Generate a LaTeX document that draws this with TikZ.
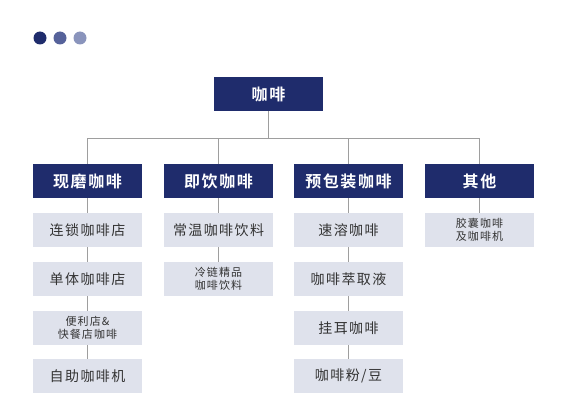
\documentclass[tikz,border=0pt]{standalone}
\usepackage{fontspec}
\newfontfamily\cjk{Noto Sans CJK SC}[LetterSpace=10]
\newfontfamily\cjkbold{Noto Sans CJK SC Bold}[LetterSpace=10]

\definecolor{navy}{HTML}{1F2C6C}
\definecolor{navymid}{HTML}{56629A}
\definecolor{navylight}{HTML}{8A94BC}
\definecolor{subfill}{HTML}{DFE2EC}
\definecolor{subtext}{HTML}{333333}
\definecolor{wire}{HTML}{9E9E9E}

\tikzset{
  headbox/.style={fill=navy, text=white, minimum width=109pt, minimum height=34pt,
    inner sep=0pt, font=\cjkbold\fontsize{16}{18}\selectfont},
  subbox/.style={fill=subfill, text=subtext, minimum width=109pt, minimum height=34pt,
    inner sep=0pt, font=\cjk\fontsize{14}{16}\selectfont},
  smallsub/.style={subbox, align=center, font=\cjk\fontsize{11}{12.5}\selectfont},
  wireline/.style={draw=wire, line width=0.9pt},
}

\begin{document}
\begin{tikzpicture}[x=1pt,y=-1pt]
  \useasboundingbox (0,0) rectangle (567,412);

  % the three dots
  \fill[navy]      (40,38) circle (6.5);
  \fill[navymid]   (60,38) circle (6.5);
  \fill[navylight] (80,38) circle (6.5);

  % root and categories
  \node[headbox] (coffee) at (268.5, 94)  {咖啡};
  \node[headbox] (fresh)  at (87.5, 181)  {现磨咖啡};
  \node[headbox] (ready)  at (218.5, 181) {即饮咖啡};
  \node[headbox] (packed) at (348.5, 181) {预包装咖啡};
  \node[headbox] (other)  at (479.5, 181) {其他};

  % sub items
  \node[subbox]   (chain)   at (87.5, 230) {连锁咖啡店};
  \node[subbox]   (single)  at (87.5, 279) {单体咖啡店};
  \node[smallsub] (store)   at (87.5, 328) {便利店\&\\快餐店咖啡};
  \node[subbox]   (machine) at (87.5, 376) {自助咖啡机};

  \node[subbox]   (ambient) at (218.5, 230) {常温咖啡饮料};
  \node[smallsub] (cold)    at (218.5, 279) {冷链精品\\咖啡饮料};

  \node[subbox]   (instant) at (348.5, 230) {速溶咖啡};
  \node[subbox]   (extract) at (348.5, 279) {咖啡萃取液};
  \node[subbox]   (drip)    at (348.5, 328) {挂耳咖啡};
  \node[subbox]   (beans)   at (348.5, 376) {咖啡粉/豆};

  \node[smallsub] (capsule) at (479.5, 230) {胶囊咖啡\\及咖啡机};

  % bus line
  \coordinate (bus) at (0,138);
  \draw[wireline] (coffee.south) -- (coffee.south |- bus);
  \draw[wireline] (fresh.north |- bus) -- (other.north |- bus);
  \draw[wireline] (fresh.north |- bus) -- (fresh.north);
  \draw[wireline] (ready.north |- bus) -- (ready.north);
  \draw[wireline] (packed.north |- bus) -- (packed.north);
  \draw[wireline] (other.north |- bus) -- (other.north);

  % columns
  \draw[wireline] (fresh) -- (chain) (chain) -- (single) (single) -- (store) (store) -- (machine);
  \draw[wireline] (ready) -- (ambient) (ambient) -- (cold);
  \draw[wireline] (packed) -- (instant) (instant) -- (extract) (extract) -- (drip) (drip) -- (beans);
  \draw[wireline] (other) -- (capsule);
\end{tikzpicture}
\end{document}
